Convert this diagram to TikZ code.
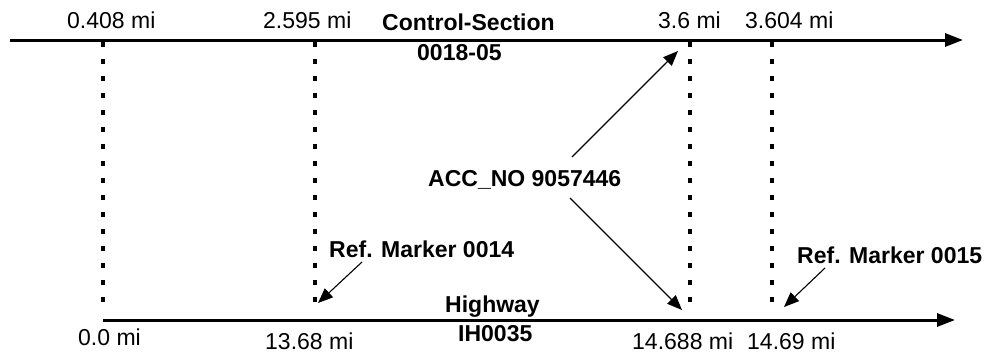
\documentclass[tikz,border=0pt]{standalone}
\usepackage{fontspec}
\setmainfont{Liberation Sans}
\usetikzlibrary{arrows.meta}

\begin{document}
\begin{tikzpicture}[x=1pt,y=-1pt,
  font=\fontsize{23}{27}\selectfont,
  lbl/.style={anchor=base west,inner sep=0pt},
  bold/.style={lbl,font=\fontsize{23}{27}\selectfont\bfseries},
  road/.style={line width=3pt,-{Triangle[length=18pt,width=13pt]}},
  post/.style={line width=3.4pt,dash pattern=on 5pt off 12pt},
  ptr/.style={line width=1.1pt,-{Triangle[length=15pt,width=12pt]}}]
  \useasboundingbox (0,0) rectangle (985,356);
  % the two axes
  \coordinate (cs0) at (10,40);
  \coordinate (cs1) at (963,40);
  \coordinate (hw0) at (103,320);
  \coordinate (hw1) at (955,320);
  \draw[road] (cs0) -- (cs1);
  \draw[road] (hw0) -- (hw1);
  % dotted posts
  \coordinate (pa0) at (103,42);  \coordinate (pa1) at (103,312);
  \coordinate (pb0) at (315,42);  \coordinate (pb1) at (315,312);
  \coordinate (pc0) at (690,42);  \coordinate (pc1) at (690,312);
  \coordinate (pd0) at (772,42);  \coordinate (pd1) at (772,312);
  \draw[post] (pa0) -- (pa1);
  \draw[post] (pb0) -- (pb1);
  \draw[post] (pc0) -- (pc1);
  \draw[post] (pd0) -- (pd1);
  % control-section labels
  \node[lbl] (ma) at (67,28) {0.408 mi};
  \node[lbl] (mb) at (263,28) {2.595 mi};
  \node[lbl] (mc) at (658,28) {3.6 mi};
  \node[lbl] (md) at (745,28) {3.604 mi};
  \node[bold] (cs) at (382,30) {Control-Section};
  \node[bold] (csno) at (417,60) {0018-05};
  % highway labels
  \node[lbl] (ha) at (78,345) {0.0 mi};
  \node[lbl] (hb) at (265,349) {13.68 mi};
  \node[lbl] (hc) at (632,349) {14.688 mi};
  \node[lbl] (hd) at (747,349) {14.69 mi};
  \node[bold] (hw) at (445,312) {Highway};
  \node[bold] (hwno) at (458,341) {IH0035};
  % accident and reference markers
  \node[bold] (acc) at (428,186) {ACC\_NO 9057446};
  \node[bold] (rm14) at (329,257) {Ref. Marker 0014};
  \node[bold] (rm15) at (797,263) {Ref. Marker 0015};
  \coordinate (accup) at (572,157);
  \coordinate (accupt) at (678,51);
  \coordinate (accdn) at (570,198);
  \coordinate (accdnt) at (682,310);
  \coordinate (rm14s) at (362,262);
  \coordinate (rm14t) at (318,303);
  \coordinate (rm15s) at (825,268);
  \coordinate (rm15t) at (784,307);
  \draw[ptr] (accup) -- (accupt);
  \draw[ptr] (accdn) -- (accdnt);
  \draw[ptr] (rm14s) -- (rm14t);
  \draw[ptr] (rm15s) -- (rm15t);
\end{tikzpicture}
\end{document}
